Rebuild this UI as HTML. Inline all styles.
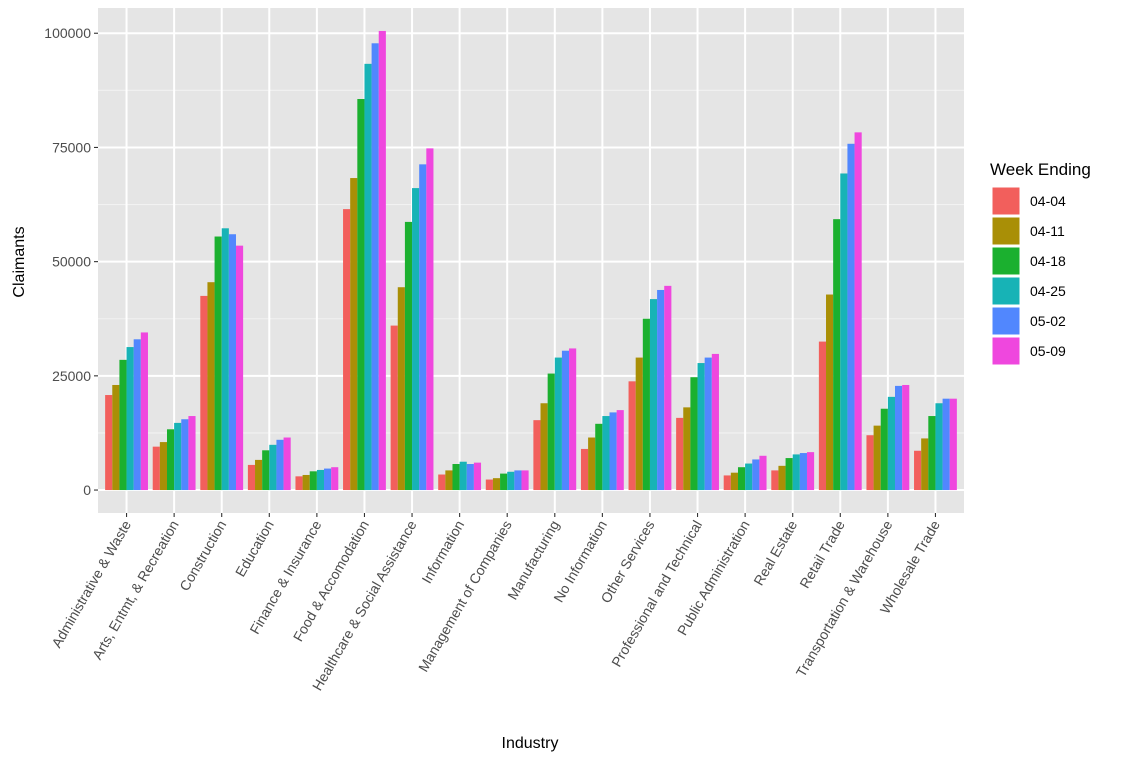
<!DOCTYPE html>
<html><head><meta charset="utf-8">
<style>
body{margin:0;background:#fff;}
svg text{font-family:"Liberation Sans",Arial,sans-serif;}
</style></head>
<body>
<svg id="chart" width="1125" height="762" xmlns="http://www.w3.org/2000/svg">
<rect x="0" y="0" width="1125" height="762" fill="#fff"/>
<rect x="98" y="8" width="866" height="505" fill="#e5e5e5"/>
<g id="grid"></g>
<g id="bars"></g>
<g id="axes"></g>
<g id="legend"></g>
<text transform="translate(24,262) rotate(-90)" text-anchor="middle" font-size="16" fill="#000">Claimants</text>
<text x="530" y="748" text-anchor="middle" font-size="16" fill="#000">Industry</text>
</svg>
<script>
const categories=["Administrative & Waste","Arts, Entmt, & Recreation","Construction","Education","Finance & Insurance","Food & Accomodation","Healthcare & Social Assistance","Information","Management of Companies","Manufacturing","No Information","Other Services","Professional and Technical","Public Administration","Real Estate","Retail Trade","Transportation & Warehouse","Wholesale Trade"];
const seriesNames=["04-04","04-11","04-18","04-25","05-02","05-09"];
const seriesColors=["#f25f5c","#a98f06","#1bb02f","#17b3b6","#5187fe","#ef47de"];
const s0404=[20800,9500,42500,5500,3000,61500,36000,3400,2300,15300,9000,23800,15800,3200,4300,32500,12000,8600];
const s0411=[23000,10500,45500,6600,3300,68300,44400,4300,2600,19000,11500,29000,18100,3800,5300,42800,14100,11300];
const s0418=[28500,13300,55500,8700,4100,85600,58700,5700,3600,25500,14500,37500,24700,5000,7000,59300,17800,16200];
const s0425=[31300,14700,57300,9900,4400,93300,66100,6200,4000,29000,16200,41800,27800,5800,7800,69300,20400,19000];
const s0502=[33000,15500,56000,11000,4700,97800,71300,5700,4300,30500,17000,43800,29000,6700,8100,75800,22800,20000];
const s0509=[34500,16200,53500,11500,5000,100500,74800,6000,4300,31000,17500,44700,29800,7500,8300,78300,23000,20000];
const yTicks=[0,25000,50000,75000,100000];
const yTickLabels=["0","25000","50000","75000","100000"];
const series=[s0404,s0411,s0418,s0425,s0502,s0509];

const NS="http://www.w3.org/2000/svg";
const px0=98,px1=964,py0=8,py1=513;
const ymax=Math.max(...series.flat());
const yLo=-0.05*ymax,yHi=ymax*1.05;
const y=v=>py1-(v-yLo)/(yHi-yLo)*(py1-py0);
const n=categories.length;
const step=(px1-px0)/(n+0.2);
const x=i=>px0+step*(0.6+i);
function mk(tag,attrs,parent){const e=document.createElementNS(NS,tag);for(const k in attrs)e.setAttribute(k,attrs[k]);parent.appendChild(e);return e;}
const grid=document.getElementById('grid'),bars=document.getElementById('bars'),axes=document.getElementById('axes'),legend=document.getElementById('legend');
for(let i=0;i<yTicks.length-1;i++){const v=(yTicks[i]+yTicks[i+1])/2;const l=mk('line',{x1:px0,x2:px1,y1:y(v),y2:y(v),stroke:'#f2f2f2','stroke-width':1.1},grid);
 
 }
yTicks.forEach((v,i)=>{
 const l=mk('line',{x1:px0,x2:px1,y1:y(v),y2:y(v),stroke:'#fff','stroke-width':2},grid);
 
 
 const t=mk('line',{x1:px0-4,x2:px0,y1:y(v),y2:y(v),stroke:'#333','stroke-width':1.1},axes);
 
 
 const tx=mk('text',{x:px0-7,y:y(v)+5,'text-anchor':'end','font-size':14,fill:'#4d4d4d'},axes);
 tx.textContent=yTickLabels[i];
 
 
});
const gw=step*0.9,bw=gw/series.length;
categories.forEach((c,i)=>{
 const l=mk('line',{x1:x(i),x2:x(i),y1:py0,y2:py1,stroke:'#fff','stroke-width':2},grid);
 
 
 const t=mk('line',{x1:x(i),x2:x(i),y1:py1,y2:py1+4,stroke:'#333','stroke-width':1.1},axes);
 
 
 const tx=mk('text',{transform:`translate(${x(i)+5},${py1+11}) rotate(-60)`,'text-anchor':'end','font-size':14,fill:'#4d4d4d'},axes);
 tx.textContent=c;
 
 
 series.forEach((s,j)=>{
  const bx=x(i)-gw/2+j*bw;
  const r=mk('rect',{x:bx,y:y(s[i]),width:bw,height:y(0)-y(s[i]),fill:seriesColors[j]},bars);
  
  
 });
});
const lt=mk('text',{x:990,y:175,'font-size':17,fill:'#000'},legend);
lt.textContent='Week Ending';


seriesNames.forEach((nm,j)=>{
 const ky=187+j*30;
 const r=mk('rect',{x:992,y:ky,width:28,height:28,fill:seriesColors[j],stroke:'#fff','stroke-width':1},legend);
 
 
 const t=mk('text',{x:1030,y:ky+19,'font-size':14,fill:'#000'},legend);
 t.textContent=nm;
 
 
});
</script>
</body></html>
